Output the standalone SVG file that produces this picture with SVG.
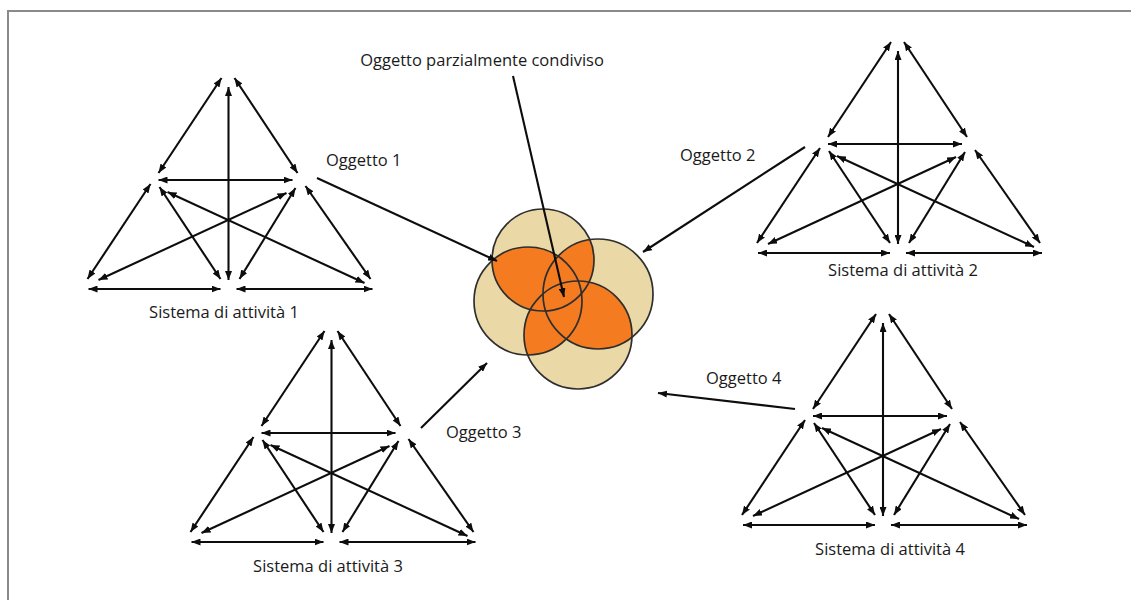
<svg xmlns="http://www.w3.org/2000/svg" xmlns:xlink="http://www.w3.org/1999/xlink" width="1131" height="600" viewBox="0 0 1131 600">
  <style>
    .frame { stroke: #8a8a8a; stroke-width: 2; fill: none; }
    .arr { stroke: #0d0d0d; stroke-width: 2.1; fill: none; marker-start: url(#head); marker-end: url(#head); }
    .link { stroke: #0d0d0d; stroke-width: 2.1; fill: none; marker-end: url(#head); }
    .disc { fill: #ead9a6; }
    .overlap { fill: #f47b20; }
    .rim { fill: none; stroke: #2e2e2e; stroke-width: 1.7; }
    .label { font-family: "Open Sans", "Liberation Sans", sans-serif; font-size: 16.5px; fill: #1a1a1a; }
    .mid { text-anchor: middle; }
  </style>
  <defs>
    <marker id="head" viewBox="0 0 9 7" refX="9" refY="3.5" markerWidth="9" markerHeight="7" markerUnits="userSpaceOnUse" orient="auto-start-reverse">
      <path d="M0,0 L9,3.5 L0,7 z" fill="#0d0d0d"/>
    </marker>
    <!-- one activity system: apex at (0,0), central axis at x=0 -->
    <g id="activity-system">
      <line class="arr" x1="-7" y1="2" x2="-70" y2="97"/>
      <line class="arr" x1="6" y1="2" x2="69" y2="97"/>
      <line class="arr" x1="0" y1="11" x2="0" y2="204"/>
      <line class="arr" x1="-70" y1="104" x2="64" y2="104"/>
      <line class="arr" x1="-78" y1="108" x2="-141" y2="203"/>
      <line class="arr" x1="-69" y1="111" x2="-8" y2="203"/>
      <line class="arr" x1="-61" y1="116" x2="136" y2="207"/>
      <line class="arr" x1="58" y1="117" x2="-130" y2="204"/>
      <line class="arr" x1="67" y1="112" x2="11" y2="203"/>
      <line class="arr" x1="77" y1="110" x2="142" y2="203"/>
      <line class="arr" x1="-140" y1="213" x2="-8" y2="213"/>
      <line class="arr" x1="8" y1="213" x2="144" y2="213"/>
    </g>
    <circle id="cA" cx="543" cy="260" r="51"/>
    <circle id="cB" cx="528" cy="301" r="54"/>
    <circle id="cC" cx="598" cy="294" r="55"/>
    <circle id="cD" cx="578" cy="335" r="54"/>
    <clipPath id="clipA"><use xlink:href="#cA"/></clipPath>
    <clipPath id="clipB"><use xlink:href="#cB"/></clipPath>
    <clipPath id="clipC"><use xlink:href="#cC"/></clipPath>
    <clipPath id="clipD"><use xlink:href="#cD"/></clipPath>
  </defs>

  <rect width="1131" height="600" fill="#fff"/>
  <path class="frame" d="M8,600 V11 H1131"/>

  <g id="system-1">
    <use xlink:href="#activity-system" transform="translate(228.5,76)"/>
    <text class="label mid" x="224" y="318">Sistema di attività 1</text>
  </g>
  <g id="system-2">
    <use xlink:href="#activity-system" transform="translate(898,40)"/>
    <text class="label mid" x="903" y="276">Sistema di attività 2</text>
  </g>
  <g id="system-3">
    <use xlink:href="#activity-system" transform="translate(331.5,329)"/>
    <text class="label mid" x="328" y="572">Sistema di attività 3</text>
  </g>
  <g id="system-4">
    <use xlink:href="#activity-system" transform="translate(883,312)"/>
    <text class="label mid" x="890" y="555">Sistema di attività 4</text>
  </g>

  <!-- shared object: four overlapping discs, overlaps in orange -->
  <g id="shared-object">
    <use xlink:href="#cA" class="disc"/>
    <use xlink:href="#cB" class="disc"/>
    <use xlink:href="#cC" class="disc"/>
    <use xlink:href="#cD" class="disc"/>
    <use xlink:href="#cA" class="overlap" clip-path="url(#clipB)"/>
    <use xlink:href="#cA" class="overlap" clip-path="url(#clipC)"/>
    <use xlink:href="#cA" class="overlap" clip-path="url(#clipD)"/>
    <use xlink:href="#cB" class="overlap" clip-path="url(#clipC)"/>
    <use xlink:href="#cB" class="overlap" clip-path="url(#clipD)"/>
    <use xlink:href="#cC" class="overlap" clip-path="url(#clipD)"/>
    <use xlink:href="#cA" class="rim"/>
    <use xlink:href="#cB" class="rim"/>
    <use xlink:href="#cC" class="rim"/>
    <use xlink:href="#cD" class="rim"/>
  </g>

  <g id="connectors">
    <line class="link" x1="317" y1="178" x2="497" y2="261"/>
    <line class="link" x1="805" y1="147" x2="643" y2="252"/>
    <line class="link" x1="421" y1="428" x2="487" y2="363"/>
    <line class="link" x1="795" y1="409" x2="658" y2="393"/>
    <line class="link" x1="513" y1="76" x2="564" y2="297"/>
  </g>

  <g id="labels">
    <text class="label mid" x="482" y="66">Oggetto parzialmente condiviso</text>
    <text class="label" x="326" y="166">Oggetto 1</text>
    <text class="label" x="680" y="161">Oggetto 2</text>
    <text class="label" x="446" y="438">Oggetto 3</text>
    <text class="label" x="706" y="384">Oggetto 4</text>
  </g>
</svg>
